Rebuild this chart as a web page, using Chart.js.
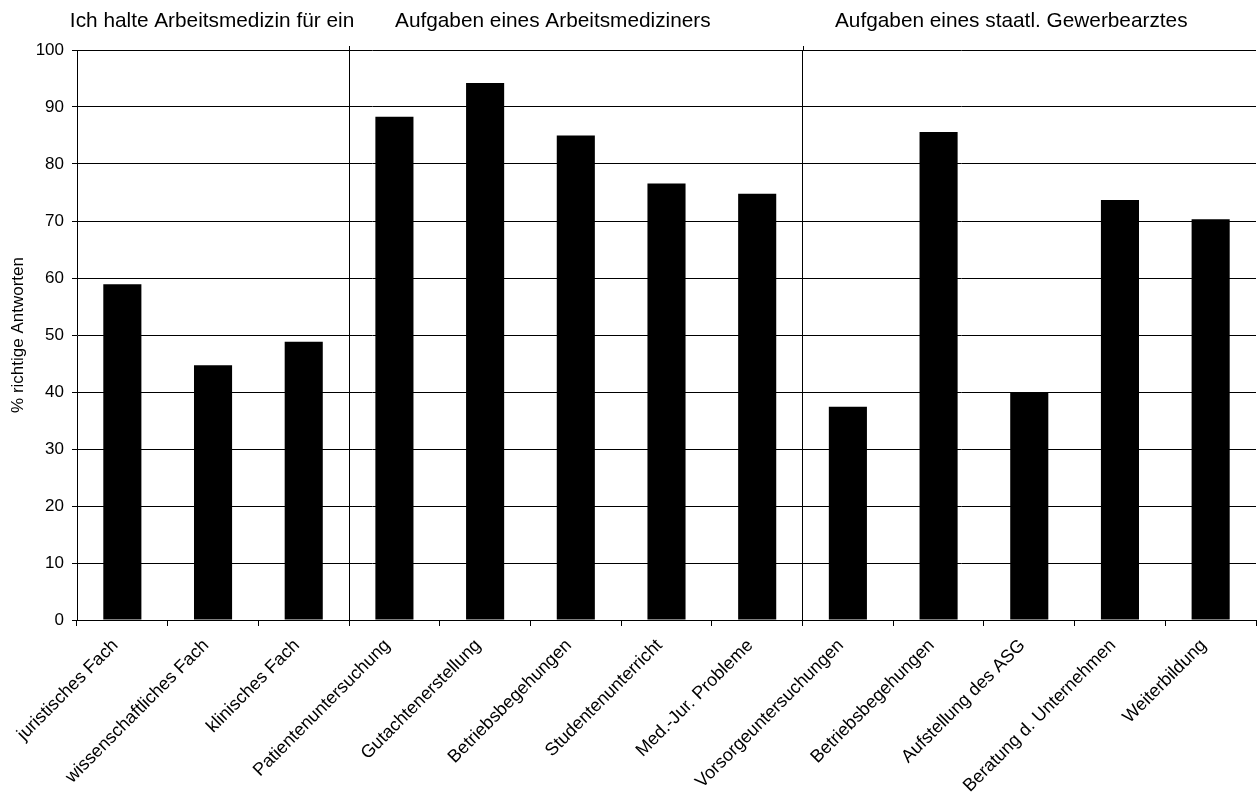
<!DOCTYPE html>
<html lang="de">
<head>
<meta charset="utf-8">
<title>Arbeitsmedizin – % richtige Antworten</title>
<script src="https://cdn.jsdelivr.net/npm/chart.js@4.4.1/dist/chart.umd.min.js"></script>
<style>
  html, body { margin: 0; padding: 0; background: #fff; }
  canvas { display: block; }
</style>
</head>
<body>
<canvas id="chart" width="1259" height="792"></canvas>
<script>
// Kategorien (drei Fragenblöcke hintereinander)
const categories = [
  'juristisches Fach', 'wissenschaftliches Fach', 'klinisches Fach',
  'Patientenuntersuchung', 'Gutachtenerstellung', 'Betriebsbegehungen',
  'Studentenunterricht', 'Med.-Jur. Probleme',
  'Vorsorgeuntersuchungen', 'Betriebsbegehungen', 'Aufstellung des ASG',
  'Beratung d. Unternehmen', 'Weiterbildung'
];

// Anteil richtiger Antworten in %
const correctPercent = [58.9, 44.7, 48.8, 88.3, 94.2, 85.0, 76.6, 74.8, 37.4, 85.6, 39.9, 73.7, 70.3];

// Blocküberschriften und die Anzahl der Kategorien je Block
const groupTitles = [
  'Ich halte Arbeitsmedizin für ein',
  'Aufgaben eines Arbeitsmediziners',
  'Aufgaben eines staatl. Gewerbearztes'
];
const groupSizes = [3, 5, 5];

const yTicks = [0, 10, 20, 30, 40, 50, 60, 70, 80, 90, 100];
const yTitle = '% richtige Antworten';

const FONT = "'Liberation Sans', Arial, sans-serif";

// Indizes der Gitterlinien, an denen ein neuer Block beginnt
const boundaryIdx = [];
groupSizes.reduce((acc, n, i) => {
  const next = acc + n;
  if (i < groupSizes.length - 1) boundaryIdx.push(next);
  return next;
}, 0);

// Überschriften über den Blöcken (horizontale Versätze relativ zur Blockmitte)
const titleShift = [-1, -23, -18];
const groupTitlePlugin = {
  id: 'groupTitles',
  afterDraw(chart) {
    const x = chart.scales.x;
    const area = chart.chartArea;
    const ctx = chart.ctx;
    const step = x.getPixelForValue(1) - x.getPixelForValue(0);
    ctx.save();
    // Trennlinien ragen etwas über die obere Gitterlinie hinaus
    ctx.strokeStyle = '#000';
    ctx.lineWidth = 1;
    boundaryIdx.forEach(i => {
      const px = Math.round(x.getPixelForValue(i) - step / 2) + 0.5;
      ctx.beginPath();
      ctx.moveTo(px, area.top - 4);
      ctx.lineTo(px, area.top);
      ctx.stroke();
    });
    ctx.font = '20.8px ' + FONT;
    ctx.fillStyle = '#000';
    ctx.textAlign = 'center';
    ctx.textBaseline = 'middle';
    let start = 0;
    groupSizes.forEach((n, i) => {
      const left = x.getPixelForValue(start) - step / 2;
      const right = x.getPixelForValue(start + n - 1) + step / 2;
      ctx.fillText(groupTitles[i], (left + right) / 2 + titleShift[i], 21);
      start += n;
    });
    ctx.restore();
  }
};

new Chart(document.getElementById('chart'), {
  type: 'bar',
  data: {
    labels: categories,
    datasets: [{
      data: correctPercent,
      backgroundColor: '#000',
      borderWidth: 0,
      categoryPercentage: 1,
      barPercentage: 0.42
    }]
  },
  options: {
    responsive: false,
    animation: false,
    devicePixelRatio: 1,
    layout: { padding: { top: 50, right: 3, left: 0, bottom: 0 } },
    plugins: {
      legend: { display: false },
      tooltip: { enabled: false }
    },
    scales: {
      x: {
        offset: true,
        afterFit(scale) { scale.height = 172; },
        border: { display: true, color: '#000', width: 1 },
        grid: {
          offset: true,
          drawOnChartArea: true,
          drawTicks: true,
          tickLength: 6,
          tickColor: '#000',
          lineWidth: 1,
          color(ctx) {
            if (boundaryIdx.includes(ctx.index)) return '#000';
            if (ctx.index === categories.length) return '#808080';
            return 'rgba(0,0,0,0)';
          }
        },
        ticks: {
          autoSkip: false,
          maxRotation: 45,
          minRotation: 45,
          padding: 9,
          labelOffset: -7,
          color: '#000',
          font: { family: FONT, size: 18 }
        }
      },
      y: {
        min: 0,
        max: 100,
        afterFit(scale) { scale.width = 77; },
        afterBuildTicks(scale) { scale.ticks = yTicks.map(v => ({ value: v })); },
        border: { display: true, color: '#000', width: 1 },
        grid: {
          color: '#000',
          lineWidth: 1,
          tickLength: 5,
          tickColor: '#000'
        },
        ticks: {
          padding: 8,
          color: '#000',
          font: { family: FONT, size: 17 }
        },
        title: {
          display: true,
          text: yTitle,
          color: '#000',
          padding: { top: 8, bottom: 0 },
          font: { family: FONT, size: 17 }
        }
      }
    }
  },
  plugins: [groupTitlePlugin]
});
</script>
</body>
</html>
